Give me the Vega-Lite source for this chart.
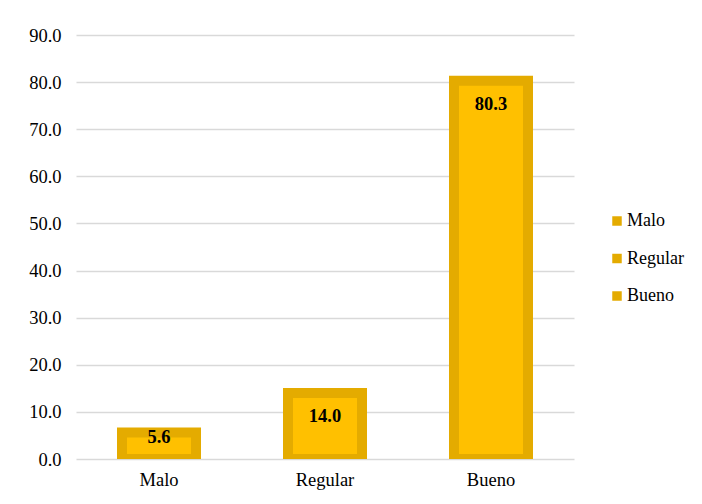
{
  "$schema": "https://vega.github.io/schema/vega-lite/v6.json",
  "autosize": "none",
  "width": 498,
  "height": 424,
  "padding": {"left": 76, "top": 35, "right": 128, "bottom": 45},
  "background": "white",
  "data": {"values": [
    {"categoria": "Malo", "valor": 5.6},
    {"categoria": "Regular", "valor": 14.0},
    {"categoria": "Bueno", "valor": 80.3}
  ]},
  "config": {
    "view": {"stroke": null},
    "font": "Liberation Serif",
    "axis": {"labelFont": "Liberation Serif", "labelFontSize": 18.5, "labelColor": "#000000", "title": null},
    "legend": {"labelFont": "Liberation Serif"}
  },
  "layer": [
    {
      "mark": {"type": "bar", "fill": "#FFC000", "stroke": "#E4AB00", "strokeWidth": 10, "size": 74, "clip": true},
      "encoding": {
        "x": {"field": "categoria", "type": "nominal", "sort": ["Malo", "Regular", "Bueno"],
          "axis": {"labelAngle": 0, "domain": false, "ticks": false, "labelPadding": 11}},
        "y": {"field": "valor", "type": "quantitative",
          "scale": {"domain": [0, 90], "nice": false},
          "axis": {"values": [0,10,20,30,40,50,60,70,80,90], "format": ".1f", "domain": false, "ticks": false,
            "gridColor": "#D9D9D9", "gridWidth": 1.5, "labelPadding": 15}}
      }
    },
    {
      "transform": [{"filter": "datum.valor < 0"}],
      "mark": {"type": "point", "shape": "square", "filled": true, "opacity": 1},
      "encoding": {
        "x": {"field": "categoria", "type": "nominal", "sort": ["Malo", "Regular", "Bueno"]},
        "y": {"field": "valor", "type": "quantitative"},
        "color": {"field": "categoria", "type": "nominal",
          "scale": {"domain": ["Malo", "Regular", "Bueno"], "range": ["#E4AB00", "#E4AB00", "#E4AB00"]},
          "legend": {"title": null, "orient": "none", "legendX": 532, "legendY": 177,
            "symbolType": "square", "symbolSize": 90, "symbolStrokeWidth": 0, "symbolOpacity": 1,
            "labelFont": "Liberation Serif", "labelFontSize": 18, "labelColor": "#000000",
            "rowPadding": 19.5, "labelOffset": 1}}
      }
    },
    {
      "transform": [{"filter": "datum.valor >= 10"}],
      "mark": {"type": "text", "fontWeight": "bold", "fontSize": 18.5, "font": "Liberation Serif", "baseline": "middle", "dy": 23, "color": "#000000"},
      "encoding": {
        "x": {"field": "categoria", "type": "nominal", "sort": ["Malo", "Regular", "Bueno"]},
        "y": {"field": "valor", "type": "quantitative"},
        "text": {"field": "valor", "type": "quantitative", "format": ".1f"}
      }
    },
    {
      "transform": [{"filter": "datum.valor < 10"}],
      "mark": {"type": "text", "fontWeight": "bold", "fontSize": 18.5, "font": "Liberation Serif", "baseline": "middle", "dy": 4, "color": "#000000"},
      "encoding": {
        "x": {"field": "categoria", "type": "nominal", "sort": ["Malo", "Regular", "Bueno"]},
        "y": {"field": "valor", "type": "quantitative"},
        "text": {"field": "valor", "type": "quantitative", "format": ".1f"}
      }
    }
  ]
}
